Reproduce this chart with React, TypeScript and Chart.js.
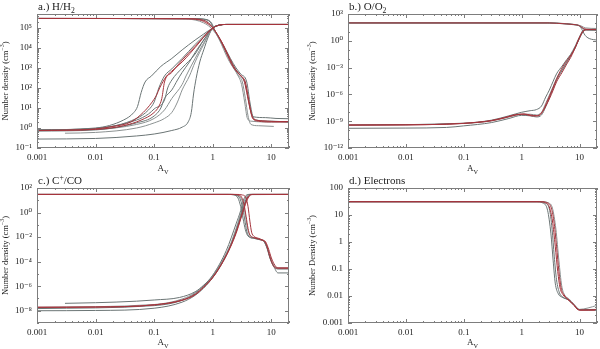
import React, { useEffect, useRef } from 'react';
import { Chart, registerables } from 'chart.js';

Chart.register(...registerables);

type Pt = [number, number];
type Part = { t: string; sub?: boolean; sup?: boolean };

const FONT = "'Liberation Serif', 'DejaVu Serif', serif";
const GRAY = '#6b7575';
const GRAY2 = '#8c9292';
const RED = '#a5343c';

// ---- shared x axis ----
const X_MIN = 0.001;
const X_MAX = 20;
const X_TICKS = [0.001, 0.01, 0.1, 1, 10];
const X_TICK_LABELS = ['0.001', '0.01', '0.1', '1', '10'];

// ---- panel a: H / H2 ----
const A_Y_TICKS = [0.1, 1, 10, 100, 1e3, 1e4, 1e5];
const A_Y_LABELS = ['10⁻¹', '10⁰', '10¹', '10²', '10³', '10⁴', '10⁵'];
const A_H_RED_1: Pt[] = [[0.001, 3e5], [0.3, 2.9e5], [0.6, 2.5e5], [0.8, 1.7e5], [1, 1e5], [1.3, 3e4], [1.7, 6e3], [2.2, 1.2e3], [2.8, 5e2], [3.4, 2.5e2], [3.8, 60], [4.3, 10], [4.8, 3], [6, 2.2], [10, 2], [20, 2]];
const A_H_RED_2: Pt[] = [[0.001, 3e5], [0.4, 2.9e5], [0.7, 2.4e5], [0.9, 1.5e5], [1.05, 8.5e4], [1.4, 2.2e4], [1.9, 3.5e3], [2.4, 9e2], [3, 4e2], [3.6, 2e2], [4, 40], [4.5, 6], [5, 2.8], [7, 2.3], [12, 2.1], [20, 2.1]];
const A_H_GRAY_1: Pt[] = [[0.001, 3e5], [0.3, 2.9e5], [0.6, 2.6e5], [0.8, 2.1e5], [1, 1e5], [1.3, 2.5e4], [1.8, 3e3], [2.3, 9e2], [2.8, 4e2], [3.2, 2e2], [3.6, 30], [4, 4], [4.5, 1.5], [6, 1.3], [11, 1.2]];
const A_H_GRAY_2: Pt[] = [[0.001, 3e5], [0.4, 2.95e5], [0.7, 2.7e5], [0.9, 2e5], [1.05, 9e4], [1.4, 2e4], [2, 2.5e3], [2.5, 8e2], [3, 4e2], [3.6, 1.5e2], [4, 30], [4.5, 6], [5, 3.6], [8, 3.3], [12, 3], [20, 2.9]];
const A_H_GRAY_3: Pt[] = [[0.001, 3e5], [0.5, 2.95e5], [0.8, 2.6e5], [0.95, 1.8e5], [1.1, 7e4], [1.5, 1.5e4], [2, 3e3], [2.5, 1e3], [3, 5e2], [3.8, 2e2], [4.3, 20], [4.8, 4], [5.5, 2.5], [10, 2.2], [20, 2]];
const A_H_GRAY_4: Pt[] = [[0.001, 3e5], [0.3, 2.8e5], [0.5, 2.5e5], [0.7, 1.8e5], [0.9, 1.1e5], [1.2, 4e4], [1.6, 8e3], [2, 2e3], [2.6, 5e2], [3.1, 1.5e2], [3.5, 20], [3.9, 3], [4.5, 2.2], [10, 2], [20, 2]];
const A_H2_TAIL: Pt[] = [[1.3, 1.4e5], [1.7, 1.5e5], [20, 1.5e5]];
const A_H2_RED_1: Pt[] = [[0.001, 0.75], [0.005, 0.8], [0.01, 0.9], [0.02, 1.2], [0.04, 2], [0.065, 6], [0.09, 18], [0.11, 45], [0.124, 100], [0.16, 370], [0.2, 700], [0.3, 2000], [0.41, 5400], [0.6, 2e4], [0.8, 5.5e4], [1, 1e5]];
const A_H2_RED_2: Pt[] = [[0.001, 0.75], [0.01, 0.85], [0.03, 1.3], [0.06, 2.5], [0.1, 6], [0.12, 12], [0.135, 30], [0.15, 200], [0.2, 600], [0.3, 2500], [0.5, 1.2e4], [0.7, 3.5e4], [1, 1e5]];
const A_H2_GRAY_1: Pt[] = [[0.001, 0.8], [0.01, 1], [0.03, 2.5], [0.045, 6], [0.052, 12], [0.06, 60], [0.07, 200], [0.09, 400], [0.13, 1200], [0.2, 3000], [0.3, 8000], [0.5, 2.5e4], [0.7, 5e4], [1, 1e5]];
const A_H2_GRAY_2: Pt[] = [[0.001, 0.8], [0.01, 0.95], [0.05, 3], [0.08, 8], [0.1, 20], [0.12, 100], [0.15, 400], [0.2, 900], [0.3, 3000], [0.5, 1.5e4], [0.7, 4e4], [1, 1e5]];
const A_H2_GRAY_3: Pt[] = [[0.001, 0.7], [0.01, 0.8], [0.05, 1.8], [0.1, 4], [0.13, 10], [0.15, 30], [0.2, 80], [0.25, 250], [0.3, 600], [0.4, 2000], [0.5, 6000], [0.7, 2.5e4], [1, 1e5]];
const A_H2_GRAY_4: Pt[] = [[0.003, 0.55], [0.01, 0.6], [0.05, 1], [0.1, 1.8], [0.15, 3], [0.2, 6], [0.25, 20], [0.3, 80], [0.4, 400], [0.5, 2000], [0.7, 1.5e4], [1, 1e5]];
const A_H2_GRAY_5: Pt[] = [[0.001, 0.28], [0.01, 0.3], [0.05, 0.4], [0.1, 0.5], [0.2, 0.75], [0.3, 1.1], [0.38, 2], [0.43, 6], [0.47, 50], [0.52, 300], [0.6, 2000], [0.7, 8000], [0.85, 4e4], [1, 1e5]];
const A_H2_GRAY_6: Pt[] = [[0.001, 0.8], [0.01, 0.95], [0.05, 2.5], [0.08, 5], [0.1, 9], [0.15, 25], [0.17, 100], [0.2, 250], [0.3, 1000], [0.5, 5000], [0.7, 2.5e4], [1, 1e5]];
const A_H2_GRAY_7: Pt[] = [[0.001, 0.75], [0.01, 0.85], [0.05, 1.5], [0.1, 3], [0.15, 8], [0.2, 30], [0.3, 150], [0.35, 400], [0.5, 3000], [0.7, 1.8e4], [1, 1e5]];

// ---- panel b: O / O2 ----
const B_Y_TICKS = [1e-12, 1e-9, 1e-6, 1e-3, 1, 1e3];
const B_Y_LABELS = ['10⁻¹²', '10⁻⁹', '10⁻⁶', '10⁻³', '10⁰', '10³'];
const B_O_RED: Pt[] = [[0.001, 100], [3, 100], [4, 92], [6, 78], [8, 66], [9.5, 55], [10.5, 40], [11.5, 26], [13, 20], [20, 18]];
const B_O_GRAY_1: Pt[] = [[0.001, 100], [2.8, 99], [5, 82], [8, 62], [10, 45], [11.3, 24], [12.5, 18], [20, 16]];
const B_O_GRAY_2: Pt[] = [[0.001, 100], [3, 100], [5, 86], [8, 66], [10, 45], [11, 18], [12, 6], [13, 3], [15, 1.7], [20, 1.2]];
const B_O_GRAY_3: Pt[] = [[0.001, 100], [3.5, 100], [6, 82], [9, 62], [11, 42], [12.5, 28], [20, 24]];
const B_O2_RED_1: Pt[] = [[0.001, 3.7e-10], [0.01, 3.9e-10], [0.05, 4.6e-10], [0.1, 5.6e-10], [0.2, 8e-10], [0.3, 1.1e-9], [0.5, 2.3e-9], [0.8, 5e-9], [1.1, 6.5e-9], [1.4, 5e-9], [1.8, 4e-9], [2.1, 6e-9], [2.5, 3e-8], [3, 3e-7], [3.5, 3e-6], [4, 2.5e-5], [5, 3e-4], [6, 2.5e-3], [7, 1.3e-2], [8, 8e-2], [9, 0.5], [10, 2.5], [11, 8], [12, 15], [13, 18], [20, 18]];
const B_O2_RED_2: Pt[] = [[0.001, 3.7e-10], [0.01, 3.9e-10], [0.1, 5.8e-10], [0.3, 1.2e-9], [0.5, 2.5e-9], [0.8, 5.5e-9], [1.1, 6e-9], [1.5, 4e-9], [1.9, 4e-9], [2.3, 1.2e-8], [2.7, 1.2e-7], [3.2, 1.5e-6], [3.7, 1.5e-5], [4.3, 1.5e-4], [5.2, 1.5e-3], [6.2, 8e-3], [7.2, 3e-2], [8.3, 0.15], [9.3, 0.8], [10.3, 3.5], [11.3, 10], [12.5, 17], [20, 19]];
const B_O2_GRAY_1: Pt[] = [[0.001, 3.7e-10], [0.1, 6e-10], [0.3, 1.3e-9], [0.6, 4e-9], [1, 1e-8], [1.4, 1.5e-8], [1.8, 2e-8], [2.2, 5e-8], [2.6, 5e-7], [3, 3e-6], [3.5, 3e-5], [4, 2e-4], [5, 1.5e-3], [6, 8e-3], [7, 3e-2], [8.5, 0.3], [10, 3], [11.5, 15], [13, 18], [20, 17]];
const B_O2_GRAY_2: Pt[] = [[0.001, 1.6e-10], [0.01, 1.7e-10], [0.05, 2e-10], [0.1, 3e-10], [0.3, 7e-10], [0.6, 2e-9], [1, 4.5e-9], [1.4, 4e-9], [1.8, 3e-9], [2.2, 5e-9], [2.6, 4e-8], [3, 4e-7], [3.5, 5e-6], [4, 4e-5], [5, 5e-4], [6, 4e-3], [7, 2e-2], [8.5, 0.2], [10, 2], [11.5, 10], [13, 16], [20, 16]];
const B_O2_GRAY_3: Pt[] = [[0.001, 3.7e-10], [0.1, 5.6e-10], [0.3, 1.1e-9], [0.6, 3e-9], [1, 6e-9], [1.4, 6e-9], [1.8, 5e-9], [2.2, 1e-8], [2.6, 1e-7], [3, 8e-7], [3.5, 8e-6], [4, 6e-5], [5, 6e-4], [6, 4e-3], [7, 2e-2], [8.5, 0.2], [10, 2], [11.5, 12], [13, 18], [20, 18]];

// ---- panel c: C+ / CO ----
const C_Y_TICKS = [1e-8, 1e-6, 1e-4, 1e-2, 1, 100];
const C_Y_LABELS = ['10⁻⁸', '10⁻⁶', '10⁻⁴', '10⁻²', '10⁰', '10²'];
const C_CP_RED_1: Pt[] = [[0.001, 30], [2.2, 30], [2.7, 27], [3.1, 18], [3.4, 5], [3.7, 0.5], [4, 0.05], [4.3, 0.015], [5, 0.009], [6, 0.007], [7, 0.0055], [7.8, 0.004], [8.5, 0.0015], [9.3, 3e-4], [10.5, 6e-5], [12, 3e-5], [20, 3e-5]];
const C_CP_RED_2: Pt[] = [[0.001, 30], [2.5, 30], [3.2, 27], [3.7, 15], [4, 3], [4.3, 0.2], [4.6, 0.025], [5, 0.012], [6, 0.008], [7, 0.006], [8, 0.004], [9, 0.001], [10, 2e-4], [11.5, 5e-5], [13, 3e-5], [20, 3e-5]];
const C_CP_GRAY_1: Pt[] = [[0.001, 30], [1.8, 30], [2.3, 27], [2.7, 15], [3, 3], [3.3, 0.3], [3.6, 0.04], [4, 0.012], [5, 0.008], [6.5, 0.006], [7.5, 0.0045], [8.5, 0.0012], [9.5, 2e-4], [11, 4e-5], [13, 1.2e-5], [20, 1.2e-5]];
const C_CP_GRAY_2: Pt[] = [[0.001, 30], [2, 30], [2.5, 26], [2.9, 14], [3.2, 3], [3.5, 0.3], [3.8, 0.03], [4.2, 0.011], [5, 0.008], [6.5, 0.006], [7.5, 0.0042], [8.5, 0.0011], [9.5, 1.8e-4], [11, 4e-5], [13, 2.5e-5], [20, 2.5e-5]];
const C_CP_GRAY_3: Pt[] = [[0.001, 30], [2.1, 30], [2.6, 27], [3, 16], [3.35, 4], [3.65, 0.4], [3.95, 0.04], [4.4, 0.012], [5, 0.009], [6.5, 0.0065], [7.6, 0.0045], [8.6, 0.0012], [9.6, 2e-4], [11, 5e-5], [13, 3e-5], [20, 3e-5]];
const C_CO_RED_1: Pt[] = [[0.001, 1.9e-8], [0.01, 2e-8], [0.1, 3e-8], [0.3, 7e-8], [0.5, 2e-7], [0.7, 8e-7], [1, 5e-6], [1.5, 1e-4], [2, 1.5e-3], [2.5, 2e-2], [3, 0.3], [3.5, 3], [4, 15], [4.5, 28], [5, 30], [20, 30]];
const C_CO_RED_2: Pt[] = [[0.001, 1.9e-8], [0.01, 2e-8], [0.1, 3e-8], [0.3, 7.5e-8], [0.5, 2.2e-7], [0.7, 9e-7], [1, 5.5e-6], [1.5, 1.1e-4], [2, 1.7e-3], [2.5, 2.5e-2], [3, 0.35], [3.4, 2.5], [3.8, 12], [4.2, 25], [4.7, 30], [20, 30]];
const C_CO_GRAY_1: Pt[] = [[0.003, 4e-8], [0.01, 4.5e-8], [0.05, 6e-8], [0.1, 7.5e-8], [0.27, 1.2e-7], [0.5, 3.5e-7], [0.7, 1.2e-6], [1, 8e-6], [1.7, 8e-4], [2.5, 0.12], [3, 1.5], [3.3, 9], [3.7, 25], [4.2, 30], [20, 30]];
const C_CO_GRAY_2: Pt[] = [[0.001, 1e-8], [0.01, 1.05e-8], [0.1, 1.6e-8], [0.3, 5e-8], [0.5, 1.8e-7], [0.7, 7e-7], [1, 5e-6], [1.5, 1e-4], [2, 1.8e-3], [2.5, 3e-2], [3, 0.5], [3.5, 5], [4, 20], [4.5, 29], [20, 30]];
const C_CO_GRAY_3: Pt[] = [[0.001, 1.9e-8], [0.1, 3.2e-8], [0.3, 9e-8], [0.5, 3e-7], [0.7, 1.2e-6], [1, 7e-6], [1.5, 1.5e-4], [2, 2.5e-3], [2.5, 5e-2], [3, 0.8], [3.4, 7], [3.8, 24], [4.3, 30], [20, 30]];
const C_CO_GRAY_4: Pt[] = [[0.001, 1.5e-8], [0.1, 2.6e-8], [0.3, 7e-8], [0.5, 2.6e-7], [0.7, 1e-6], [1, 6.5e-6], [1.5, 1.3e-4], [2, 2.2e-3], [2.5, 4e-2], [3, 0.6], [3.5, 6], [3.9, 22], [4.4, 30], [20, 30]];

// ---- panel d: electrons ----
const D_Y_TICKS = [0.001, 0.01, 0.1, 1, 10, 100];
const D_Y_LABELS = ['0.001', '0.01', '0.1', '1', '10', '100'];
const D_E_RED_1: Pt[] = [[0.001, 31], [2, 31], [2.5, 29], [3, 20], [3.4, 6], [3.8, 0.7], [4.2, 0.08], [4.6, 0.02], [5.2, 0.011], [6, 0.008], [7, 0.006], [8, 0.0045], [9, 0.0033], [10, 0.003], [20, 0.003]];
const D_E_RED_2: Pt[] = [[0.001, 31], [2.2, 31], [2.7, 29], [3.2, 20], [3.6, 6], [4, 0.7], [4.4, 0.08], [4.8, 0.02], [5.4, 0.011], [6.2, 0.008], [7.2, 0.006], [8.2, 0.0045], [9.2, 0.0033], [10.5, 0.003], [20, 0.0031]];
const D_E_GRAY_1: Pt[] = [[0.001, 31], [1.8, 31], [2.3, 28], [2.8, 15], [3.2, 2], [3.5, 0.2], [3.8, 0.03], [4.3, 0.012], [5, 0.009], [6.5, 0.007], [8, 0.0045], [10, 0.0031], [20, 0.003]];
const D_E_GRAY_2: Pt[] = [[0.001, 31], [2.3, 31], [2.9, 28], [3.4, 18], [3.9, 3], [4.4, 0.2], [4.9, 0.025], [5.5, 0.011], [6.5, 0.008], [8, 0.005], [10, 0.0032], [14, 0.0036], [20, 0.0045]];
const D_E_GRAY_3: Pt[] = [[0.001, 31], [2, 31], [2.5, 28], [3, 17], [3.35, 3], [3.65, 0.3], [4, 0.04], [4.5, 0.013], [5.2, 0.009], [6.5, 0.0072], [8, 0.0047], [10, 0.0031], [20, 0.0032]];

interface Series { pts: Pt[]; color: string }
interface Spec {
  left: number; top: number; w: number; h: number;
  area: [number, number, number, number];
  yMin: number; yMax: number;
  yTicks: number[]; yLabels: string[];
  yMinor: boolean;
  title: Part[]; yTitle: Part[]; yTitleX: number;
  series: Series[];
}

const PANELS: Spec[] = [
  {
    left: 0, top: 0, w: 300, h: 175, area: [37, 14, 289, 148],
    yMin: 0.1, yMax: 5e5, yTicks: A_Y_TICKS, yLabels: A_Y_LABELS, yMinor: true,
    title: [{ t: 'a.) H/H' }, { t: '2', sub: true }],
    yTitle: [{ t: 'Number density (cm' }, { t: '−3', sup: true }, { t: ')' }], yTitleX: 6,
    series: [
      { pts: A_H_RED_1, color: RED }, { pts: A_H_RED_2, color: RED },
      { pts: A_H2_RED_1.concat(A_H2_TAIL), color: RED }, { pts: A_H2_RED_2.concat(A_H2_TAIL), color: RED },
      { pts: A_H_GRAY_1, color: GRAY2 }, { pts: A_H_GRAY_2, color: GRAY }, { pts: A_H_GRAY_3, color: GRAY }, { pts: A_H_GRAY_4, color: GRAY2 },
      { pts: A_H2_GRAY_1.concat(A_H2_TAIL), color: GRAY }, { pts: A_H2_GRAY_2.concat(A_H2_TAIL), color: GRAY },
      { pts: A_H2_GRAY_3.concat(A_H2_TAIL), color: GRAY }, { pts: A_H2_GRAY_4.concat(A_H2_TAIL), color: GRAY2 },
      { pts: A_H2_GRAY_5.concat(A_H2_TAIL), color: GRAY }, { pts: A_H2_GRAY_6.concat(A_H2_TAIL), color: GRAY },
      { pts: A_H2_GRAY_7.concat(A_H2_TAIL), color: GRAY2 },
    ],
  },
  {
    left: 300, top: 0, w: 300, h: 175, area: [48, 14, 297, 148],
    yMin: 1e-12, yMax: 1e3, yTicks: B_Y_TICKS, yLabels: B_Y_LABELS, yMinor: false,
    title: [{ t: 'b.) O/O' }, { t: '2', sub: true }],
    yTitle: [{ t: 'Number density (cm' }, { t: '−3', sup: true }, { t: ')' }], yTitleX: 13,
    series: [
      { pts: B_O_RED, color: RED }, { pts: B_O2_RED_1, color: RED }, { pts: B_O2_RED_2, color: RED },
      { pts: B_O_GRAY_1, color: GRAY }, { pts: B_O_GRAY_2, color: GRAY }, { pts: B_O_GRAY_3, color: GRAY2 },
      { pts: B_O2_GRAY_1, color: GRAY }, { pts: B_O2_GRAY_2, color: GRAY }, { pts: B_O2_GRAY_3, color: GRAY2 },
    ],
  },
  {
    left: 0, top: 175, w: 300, h: 174, area: [37, 13, 289, 148],
    yMin: 1e-9, yMax: 100, yTicks: C_Y_TICKS, yLabels: C_Y_LABELS, yMinor: false,
    title: [{ t: 'c.) C' }, { t: '+', sup: true }, { t: '/CO' }],
    yTitle: [{ t: 'Number density (cm' }, { t: '−3', sup: true }, { t: ')' }], yTitleX: 6,
    series: [
      { pts: C_CP_RED_1, color: RED }, { pts: C_CP_RED_2, color: RED },
      { pts: C_CO_RED_1, color: RED }, { pts: C_CO_RED_2, color: RED },
      { pts: C_CP_GRAY_1, color: GRAY }, { pts: C_CP_GRAY_2, color: GRAY }, { pts: C_CP_GRAY_3, color: GRAY2 },
      { pts: C_CO_GRAY_1, color: GRAY }, { pts: C_CO_GRAY_2, color: GRAY }, { pts: C_CO_GRAY_3, color: GRAY2 }, { pts: C_CO_GRAY_4, color: GRAY },
    ],
  },
  {
    left: 300, top: 175, w: 300, h: 174, area: [48, 13, 297, 148],
    yMin: 0.001, yMax: 100, yTicks: D_Y_TICKS, yLabels: D_Y_LABELS, yMinor: true,
    title: [{ t: 'd.) Electrons' }],
    yTitle: [{ t: 'Number Density (cm' }, { t: '−3', sup: true }, { t: ')' }], yTitleX: 13,
    series: [
      { pts: D_E_RED_1, color: RED }, { pts: D_E_RED_2, color: RED },
      { pts: D_E_GRAY_1, color: GRAY }, { pts: D_E_GRAY_2, color: GRAY2 }, { pts: D_E_GRAY_3, color: GRAY },
    ],
  },
];

function drawRich(ctx: CanvasRenderingContext2D, parts: Part[], x: number, y: number, size: number, align: 'left' | 'center') {
  const small = size * 0.7;
  const widths = parts.map((p) => {
    ctx.font = `${p.sub || p.sup ? small : size}px ${FONT}`;
    return ctx.measureText(p.t).width;
  });
  const total = widths.reduce((a, b) => a + b, 0);
  let cx = align === 'center' ? x - total / 2 : x;
  ctx.textAlign = 'left';
  parts.forEach((p, i) => {
    ctx.font = `${p.sub || p.sup ? small : size}px ${FONT}`;
    const dy = p.sub ? size * 0.28 : p.sup ? -size * 0.38 : 0;
    ctx.fillText(p.t, cx, y + dy);
    cx += widths[i];
  });
}

function makePlugin(spec: Spec) {
  return {
    id: 'frameAndText',
    afterDatasetsDraw(chart: any) {
      const { ctx, chartArea: a, scales } = chart;
      const xs = scales.x;
      const ys = scales.y;
      ctx.save();
      ctx.strokeStyle = '#7d7d7d';
      ctx.lineWidth = 1;
      ctx.strokeRect(a.left + 0.5, a.top + 0.5, a.right - a.left - 1, a.bottom - a.top - 1);
      ctx.beginPath();
      for (let k = -3; k <= 1; k++) {
        for (let m = 1; m <= 9; m++) {
          const v = m * Math.pow(10, k);
          if (v < X_MIN || v > X_MAX) continue;
          const px = Math.round(xs.getPixelForValue(v)) + 0.5;
          const len = m === 1 ? 4 : 2;
          ctx.moveTo(px, a.bottom); ctx.lineTo(px, a.bottom - len);
          ctx.moveTo(px, a.top); ctx.lineTo(px, a.top + len);
        }
      }
      const lo = Math.floor(Math.log10(spec.yMin));
      const hi = Math.ceil(Math.log10(spec.yMax));
      for (let k = lo; k <= hi; k++) {
        for (let m = 1; m <= 9; m++) {
          if (m > 1 && !spec.yMinor) continue;
          const v = m * Math.pow(10, k);
          if (v < spec.yMin * 0.999 || v > spec.yMax * 1.001) continue;
          const major = spec.yTicks.some((t) => Math.abs(Math.log10(t) - Math.log10(v)) < 1e-6);
          const len = major ? 4 : 2;
          const py = Math.round(ys.getPixelForValue(v)) + 0.5;
          ctx.moveTo(a.left, py); ctx.lineTo(a.left + len, py);
          ctx.moveTo(a.right, py); ctx.lineTo(a.right - len, py);
        }
      }
      ctx.stroke();
      ctx.restore();
    },
    afterDraw(chart: any) {
      const { ctx, chartArea: a } = chart;
      ctx.save();
      ctx.fillStyle = '#222';
      ctx.textBaseline = 'alphabetic';
      drawRich(ctx, spec.title, a.left + 1, a.top - 4, 11, 'left');
      drawRich(ctx, [{ t: 'A' }, { t: 'V', sub: true }], (a.left + a.right) / 2, spec.h - 4, 9, 'center');
      ctx.translate(spec.yTitleX, (a.top + a.bottom) / 2);
      ctx.rotate(-Math.PI / 2);
      ctx.textBaseline = 'middle';
      drawRich(ctx, spec.yTitle, 0, 0, 8.5, 'center');
      ctx.restore();
    },
  };
}

function build(spec: Spec, canvas: HTMLCanvasElement) {
  const [l, t, r, b] = spec.area;
  return new Chart(canvas, {
    type: 'line',
    data: {
      datasets: spec.series.map((s) => ({
        data: s.pts.map(([x, y]) => ({ x, y })),
        borderColor: s.color,
        borderWidth: 1,
        pointRadius: 0,
        fill: false,
        cubicInterpolationMode: 'monotone',
      })),
    } as any,
    options: {
      responsive: false,
      animation: false,
      devicePixelRatio: 1,
      events: [],
      layout: { padding: { left: 0, top: t, right: spec.w - r, bottom: 0 } },
      plugins: { legend: { display: false }, tooltip: { enabled: false }, title: { display: false } },
      scales: {
        x: {
          type: 'logarithmic', min: X_MIN, max: X_MAX, bounds: 'data',
          grid: { display: false, drawTicks: false }, border: { display: false },
          afterBuildTicks: (s: any) => { s.ticks = X_TICKS.map((v) => ({ value: v })); },
          afterFit: (s: any) => { s.height = spec.h - b; },
          ticks: {
            autoSkip: false, maxRotation: 0, minRotation: 0, padding: 4, color: '#222',
            font: { family: FONT, size: 9 },
            callback: (_v: any, i: number) => X_TICK_LABELS[i],
          },
        },
        y: {
          type: 'logarithmic', min: spec.yMin, max: spec.yMax, bounds: 'data',
          grid: { display: false, drawTicks: false }, border: { display: false },
          afterBuildTicks: (s: any) => { s.ticks = spec.yTicks.map((v) => ({ value: v })); },
          afterFit: (s: any) => { s.width = l; },
          ticks: {
            autoSkip: false, padding: 5, color: '#222',
            font: { family: FONT, size: 9 },
            callback: (_v: any, i: number) => spec.yLabels[i],
          },
        },
      },
    } as any,
    plugins: [makePlugin(spec)],
  });
}

export default function App() {
  const canvases = useRef<(HTMLCanvasElement | null)[]>([]);
  useEffect(() => {
    const charts = PANELS.map((p, i) => build(p, canvases.current[i] as HTMLCanvasElement));
    return () => { charts.forEach((c) => c.destroy()); };
  }, []);
  return (
    <div style={{ position: 'absolute', left: 0, top: 0, width: 600, height: 349, background: '#fff' }}>
      {PANELS.map((p, i) => (
        <canvas
          key={i}
          ref={(el) => { canvases.current[i] = el; }}
          width={p.w}
          height={p.h}
          style={{ position: 'absolute', left: p.left, top: p.top, width: p.w, height: p.h }}
        />
      ))}
    </div>
  );
}
